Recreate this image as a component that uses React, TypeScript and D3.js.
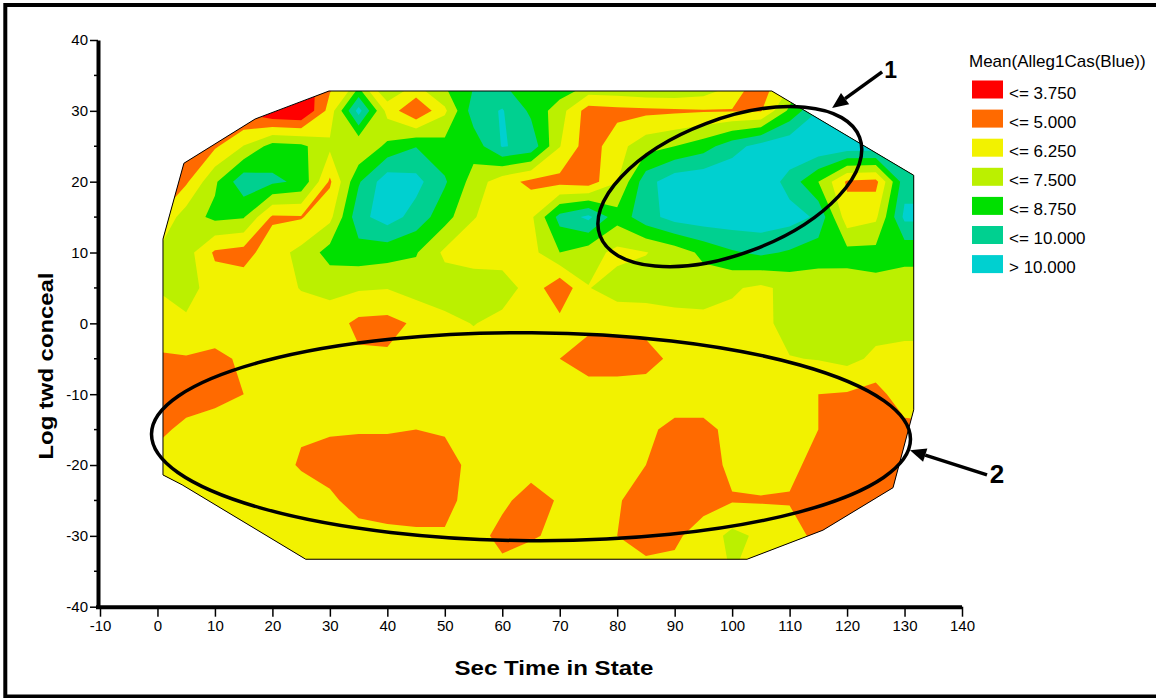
import React, { useEffect, useRef } from 'react';
import * as d3 from 'd3';

// Mean(Alleg1Cas(Blue)) on a 5 x 5 grid
const gridX = [0, 5, 10, 15, 20, 25, 30, 35, 40, 45, 50, 55, 60, 65, 70, 75, 80, 85, 90, 95, 100, 105, 110, 115, 120, 125, 130, 135];
const gridY = [35, 30, 25, 20, 15, 10, 5, 0, -5, -10, -15, -20, -25, -30, -35];

const row35 = [4.8, 4.8, 4.8, 4.6, 3.0, 3.0, 4.5, 6.0, 7.5, 7.0, 8.0, 8.5, 8.5, 8.8, 9.0, 8.5, 8.5, 8.8, 8.8, 8.2, 6.8, 4.5, 5.5, 10, 10, 10, 10, 10];
const row30 = [5.0, 5.0, 5.0, 3.5, 2.5, 2.3, 5.5, 10.5, 5.8, 3.8, 6.0, 9.4, 10.1, 8.5, 6.8, 4.4, 4.6, 4.7, 4.8, 4.9, 4.9, 4.9, 7.8, 10, 10.5, 10.5, 10.5, 10.5];
const row25 = [4.5, 4.5, 4.8, 6.3, 8.0, 7.8, 6.5, 6.3, 7.8, 8.7, 8.0, 8.0, 10.1, 9.6, 6.3, 4.3, 5.8, 7.0, 7.5, 8.2, 9.5, 10.5, 11, 11, 10.8, 10.8, 10.5, 10.5];
const row20 = [4.5, 4.8, 7.3, 9.6, 9.0, 8.5, 4.8, 8.6, 10.8, 10.4, 8.9, 7.0, 5.5, 4.7, 4.6, 4.3, 6.2, 9.5, 10.8, 11, 11, 11, 9.5, 7.5, 4.8, 4.6, 9.5, 9.5];
const row15 = [5.0, 6.9, 7.8, 7.6, 4.8, 4.9, 5.9, 9.6, 10.6, 9.5, 8.0, 6.3, 5.8, 6.0, 9.2, 10.3, 8.0, 9.5, 10.5, 10.8, 10.8, 10.8, 10.5, 9.8, 5.5, 6.0, 10.3, 10.3];
const row10 = [6.3, 6.8, 4.8, 4.5, 5.7, 6.6, 8.0, 8.2, 8.0, 7.6, 6.0, 5.7, 5.7, 5.8, 7.5, 6.8, 5.9, 6.2, 6.8, 7.8, 8.6, 9.0, 8.6, 8.0, 7.9, 7.9, 7.9, 7.9];
const row5 = [6.3, 6.8, 5.6, 5.7, 5.8, 6.3, 6.6, 6.4, 6.3, 6.8, 6.9, 6.9, 6.8, 5.8, 4.0, 6.2, 6.8, 6.8, 6.8, 6.8, 6.4, 6.0, 6.6, 6.9, 7.0, 7.2, 6.9, 6.9];
const row0 = [5.8, 6.0, 5.7, 5.6, 5.6, 5.7, 5.6, 4.7, 4.6, 5.2, 5.9, 6.3, 5.9, 5.6, 5.4, 5.4, 5.4, 5.5, 5.8, 5.9, 5.9, 5.9, 6.7, 6.9, 6.9, 6.7, 6.5, 6.5];
const rowM5 = [4.8, 4.9, 4.7, 5.2, 5.6, 5.6, 5.6, 5.2, 5.2, 5.6, 5.7, 5.7, 5.7, 5.7, 5.0, 4.2, 4.2, 4.4, 5.4, 5.7, 5.8, 5.8, 6.2, 6.3, 6.6, 6.0, 6.0, 6.0];
const rowM10 = [4.4, 4.4, 4.6, 5.0, 5.4, 5.7, 5.7, 5.7, 5.7, 5.7, 5.7, 5.7, 5.7, 5.7, 5.7, 5.8, 5.8, 5.8, 5.8, 5.8, 5.7, 5.7, 5.5, 5.0, 4.9, 4.5, 5.8, 6.2];
const rowM15 = [4.7, 5.3, 5.6, 5.6, 5.3, 5.1, 5.1, 5.1, 5.1, 5.0, 5.1, 5.7, 5.7, 5.7, 5.7, 5.7, 5.6, 5.3, 4.6, 4.6, 5.4, 5.8, 5.5, 5.0, 4.4, 4.4, 4.6, 4.6];
const rowM20 = [5.5, 5.6, 5.7, 5.6, 5.4, 4.9, 4.6, 4.3, 4.3, 4.3, 4.6, 5.3, 5.5, 5.4, 5.6, 5.6, 5.3, 5.0, 4.4, 4.4, 5.3, 5.6, 5.3, 4.6, 4.3, 4.3, 4.6, 4.6];
const rowM25 = [4.9, 5.0, 5.6, 5.7, 5.7, 5.5, 5.2, 4.6, 4.4, 4.4, 4.7, 5.4, 5.2, 4.6, 5.1, 5.1, 5.1, 4.5, 4.4, 4.6, 4.9, 4.9, 4.9, 4.4, 4.3, 4.4, 4.6, 4.8];
const rowM30 = [5.5, 5.5, 5.5, 5.6, 5.6, 5.6, 5.6, 5.4, 5.3, 5.2, 5.1, 5.4, 4.7, 4.95, 5.1, 5.2, 5.0, 4.6, 4.8, 5.5, 6.6, 6.0, 5.6, 4.6, 4.6, 4.6, 4.6, 4.6];
const rowM35 = [5.6, 5.6, 5.6, 5.6, 5.6, 5.6, 5.6, 5.6, 5.6, 5.6, 5.6, 5.6, 5.3, 5.3, 5.3, 5.3, 5.3, 5.3, 5.3, 5.8, 6.3, 5.8, 5.6, 4.8, 4.8, 4.8, 4.8, 4.8];

// outline of the sampled area
const hullX = [0.96, 4.6, 17.0, 29.85, 106.9, 131.6, 131.6, 128.0, 115.8, 102.6, 25.8, 4.3, 0.96];
const hullY = [11.9, 22.6, 28.85, 32.8, 32.8, 20.9, -12.2, -23.2, -29.2, -33.3, -33.3, -22.8, -21.4];

const bandThresholds = [3.75, 5, 6.25, 7.5, 8.75, 10];
const bandColors = ['#ff0000', '#ff6a00', '#f2f200', '#bbf000', '#00e000', '#00d090', '#00d0d0'];
const legendLabels = ['<= 3.750', '<= 5.000', '<= 6.250', '<= 7.500', '<= 8.750', '<= 10.000', '> 10.000'];

const xTicks = [-10, 0, 10, 20, 30, 40, 50, 60, 70, 80, 90, 100, 110, 120, 130, 140];
const yTicks = [-40, -30, -20, -10, 0, 10, 20, 30, 40];
const yMinorTicks = [-35, -25, -15, -5, 5, 15, 25, 35];

const font = 'Liberation Sans, Arial, Helvetica, sans-serif';

const App = () => {
  const ref = useRef<SVGSVGElement>(null);

  useEffect(() => {
    const width = 1156;
    const svg = d3.select(ref.current);
    svg.selectAll('*').remove();

    const x = d3.scaleLinear().domain([-10, 140]).range([100, 962]);
    const y = d3.scaleLinear().domain([-40, 40]).range([606.7, 40]);

    // outer frame
    svg.append('rect')
      .attr('x', 5.3).attr('y', 5)
      .attr('width', width + 20).attr('height', 691.5)
      .attr('fill', 'white').attr('stroke', '#000').attr('stroke-width', 4);

    // filled contours (d3.contours puts value k at k + 0.5)
    const grid = [row35, row30, row25, row20, row15, row10, row5, row0, rowM5, rowM10, rowM15, rowM20, rowM25, rowM30, rowM35];
    const nx = gridX.length;
    const ny = gridY.length;
    const stepX = gridX[1] - gridX[0];
    const stepY = gridY[0] - gridY[1];
    const contours = d3.contours().size([nx, ny]).thresholds(bandThresholds)(grid.flat());
    const proj = d3.geoTransform({
      point(px, py) {
        this.stream.point(x(gridX[0] + (px - 0.5) * stepX), y(gridY[0] - (py - 0.5) * stepY));
      }
    });
    const path = d3.geoPath(proj);

    const hull = hullX.map((v, i) => [x(v), y(hullY[i])] as [number, number]);
    const hullLine = d3.line().curve(d3.curveLinearClosed);

    svg.append('defs').append('clipPath').attr('id', 'hull-clip')
      .append('path').attr('d', hullLine(hull));

    const plot = svg.append('g').attr('clip-path', 'url(#hull-clip)');
    plot.append('path').attr('d', hullLine(hull)).attr('fill', bandColors[0]);
    plot.selectAll('path.band')
      .data(contours)
      .enter()
      .append('path')
      .attr('class', 'band')
      .attr('d', path)
      .attr('fill', (d, i) => bandColors[i + 1]);

    svg.append('path').attr('d', hullLine(hull))
      .attr('fill', 'none').attr('stroke', '#000').attr('stroke-width', 1);

    // axes
    const xAxis = svg.append('g')
      .attr('transform', `translate(0,${y(-40)})`)
      .call(d3.axisBottom(x).tickValues(xTicks).tickFormat((d) => String(d)).tickSize(10).tickSizeOuter(0).tickPadding(4));
    xAxis.attr('font-size', 15).attr('font-family', font);
    xAxis.select('.domain').attr('stroke-width', 4).attr('d', `M96,0.5H${x(140)}`);
    xAxis.selectAll('.tick line').attr('stroke-width', 1.5);
    xAxis.selectAll('.tick text').attr('fill', '#000');

    const yAxis = svg.append('g')
      .attr('transform', `translate(${x(-10) - 2},0)`)
      .call(d3.axisLeft(y).tickValues(yTicks).tickFormat((d) => String(d)).tickSize(8).tickSizeOuter(0).tickPadding(2));
    yAxis.attr('font-size', 15).attr('font-family', font);
    yAxis.select('.domain').attr('stroke-width', 4);
    yAxis.selectAll('.tick line').attr('stroke-width', 1.5);
    yAxis.selectAll('.tick text').attr('fill', '#000');
    yAxis.selectAll('line.minor')
      .data(yMinorTicks)
      .enter()
      .append('line')
      .attr('class', 'minor')
      .attr('x1', -4).attr('x2', 0)
      .attr('y1', (d) => y(d)).attr('y2', (d) => y(d))
      .attr('stroke', '#000').attr('stroke-width', 1.5);

    svg.append('text')
      .attr('x', 554).attr('y', 675)
      .attr('text-anchor', 'middle')
      .attr('font-family', font).attr('font-weight', 'bold').attr('font-size', 21)
      .attr('textLength', 199).attr('lengthAdjust', 'spacingAndGlyphs')
      .text('Sec Time in State');

    svg.append('text')
      .attr('transform', 'translate(53,366) rotate(-90)')
      .attr('text-anchor', 'middle')
      .attr('font-family', font).attr('font-weight', 'bold').attr('font-size', 21)
      .attr('textLength', 187).attr('lengthAdjust', 'spacingAndGlyphs')
      .text('Log twd conceal');

    // legend
    const legend = svg.append('g').attr('font-family', font).attr('font-size', 17);
    legend.append('text').attr('x', 969).attr('y', 66.7).text('Mean(Alleg1Cas(Blue))');
    const rows = legend.selectAll('g.item')
      .data(legendLabels)
      .enter()
      .append('g')
      .attr('class', 'item')
      .attr('transform', (d, i) => `translate(972,${80.5 + i * 29.1})`);
    rows.append('rect').attr('width', 31).attr('height', 18).attr('fill', (d, i) => bandColors[i]);
    rows.append('text').attr('x', 37).attr('y', 18).text((d) => d);

    // annotations
    const ann = svg.append('g');
    ann.append('ellipse')
      .attr('cx', 0).attr('cy', 0).attr('rx', 138.8).attr('ry', 67.4)
      .attr('transform', `translate(${x(99.6)},${y(19.3)}) rotate(-20.8)`)
      .attr('fill', 'none').attr('stroke', '#000').attr('stroke-width', 3.5);
    ann.append('ellipse')
      .attr('cx', 0).attr('cy', 0).attr('rx', 379.5).attr('ry', 104)
      .attr('transform', `translate(${x(65)},${y(-16)}) rotate(0.4)`)
      .attr('fill', 'none').attr('stroke', '#000').attr('stroke-width', 3.5);

    const arrow = (fx, fy, tx, ty) => {
      const x0 = x(fx), y0 = y(fy), x1 = x(tx), y1 = y(ty);
      const len = Math.hypot(x1 - x0, y1 - y0);
      const ux = (x1 - x0) / len, uy = (y1 - y0) / len;
      const bx = x1 - ux * 16, by = y1 - uy * 16;
      ann.append('line')
        .attr('x1', x0).attr('y1', y0).attr('x2', bx).attr('y2', by)
        .attr('stroke', '#000').attr('stroke-width', 3.5);
      ann.append('polygon')
        .attr('points', [[x1, y1], [bx - uy * 7, by + ux * 7], [bx + uy * 7, by - ux * 7]].map((p) => p.join(',')).join(' '))
        .attr('fill', '#000');
    };
    arrow(126.1, 35.5, 117.4, 30.4);
    arrow(144.35, -21.4, 130.95, -17.9);

    ann.append('text')
      .attr('x', x(127.6)).attr('y', y(34.6))
      .attr('text-anchor', 'middle')
      .attr('font-family', font).attr('font-weight', 'bold').attr('font-size', 23)
      .text('1');
    ann.append('text')
      .attr('x', x(146.1)).attr('y', y(-22.5))
      .attr('text-anchor', 'middle')
      .attr('font-family', font).attr('font-weight', 'bold').attr('font-size', 26)
      .text('2');
  }, []);

  return (
    <svg
      ref={ref}
      width={1156}
      height={698}
      style={{ position: 'absolute', left: 0, top: 0, background: 'white' }}
    />
  );
};

export default App;
